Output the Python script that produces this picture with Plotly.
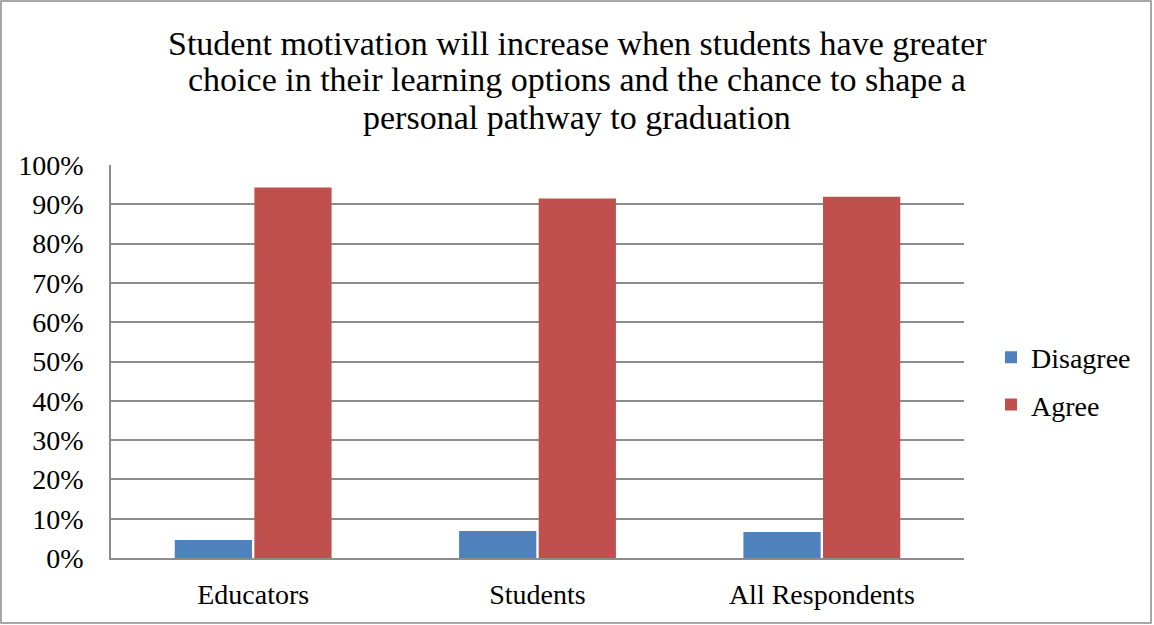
import plotly.graph_objects as go

categories = ["Educators", "Students", "All Respondents"]
disagree = [0.046, 0.069, 0.066]
agree = [0.943, 0.915, 0.919]
y_ticks = [0, 0.1, 0.2, 0.3, 0.4, 0.5, 0.6, 0.7, 0.8, 0.9, 1.0]
y_tick_labels = ["0%", "10%", "20%", "30%", "40%", "50%", "60%", "70%", "80%", "90%", "100%"]

title_lines = [
    "Student motivation will increase when students have greater",
    "choice in their learning options and the chance to shape a",
    "personal pathway to graduation",
]

FONT = "Liberation Serif"

# plot area in pixels
PL, PR, PT, PB = 111, 964, 165, 558
PW, PH = PR - PL, PB - PT


def px_x(x):
    return (x - PL) / PW


def px_y(y):
    return (PB - y) / PH


fig = go.Figure()
fig.add_trace(go.Bar(x=categories, y=disagree, name="Disagree", legendgroup="d",
                     marker=dict(color="#4f81bd", line=dict(width=0))))
fig.add_trace(go.Bar(x=categories, y=agree, name="Agree", legendgroup="a",
                     marker=dict(color="#c0504d", line=dict(width=0))))

fig.update_layout(
    width=1154, height=625,
    margin=dict(l=PL, r=1154 - PR, t=PT, b=625 - PB),
    paper_bgcolor="white", plot_bgcolor="white",
    barmode="group", bargap=0.44, bargroupgap=0.03,
    font=dict(family=FONT, color="black"),
    legend=dict(x=px_x(991), y=px_y(381), xanchor="left", yanchor="middle",
                font=dict(family=FONT, size=28, color="black"),
                itemwidth=30, tracegroupgap=8, traceorder="grouped",
                bgcolor="rgba(0,0,0,0)"),
    showlegend=True,
)

# three-line centred title
for text, yc in zip(title_lines, [43, 80, 117]):
    fig.add_annotation(text=text, xref="paper", yref="paper",
                       x=px_x(577), y=px_y(yc), xanchor="center", yanchor="middle",
                       showarrow=False,
                       font=dict(family=FONT, size=34, color="black"))

fig.update_yaxes(range=[0, 1], tickvals=y_ticks, ticktext=y_tick_labels,
                 showgrid=True, gridcolor="#8c8c8c", gridwidth=1.5,
                 showline=True, linecolor="#8c8c8c", linewidth=1.5,
                 zeroline=False, ticks="", ticklabelstandoff=20,
                 tickfont=dict(family=FONT, size=28, color="black"))
fig.update_xaxes(showline=True, linecolor="#8c8c8c", linewidth=2,
                 ticks="", ticklabelstandoff=10,
                 tickfont=dict(family=FONT, size=28, color="black"))

# outer chart border
fig.add_shape(type="rect", xref="paper", yref="paper",
              x0=px_x(1), x1=px_x(1151), y0=px_y(623), y1=px_y(1),
              line=dict(color="#8c8c8c", width=1.5), fillcolor="rgba(0,0,0,0)")

fig.write_html("out.html")
